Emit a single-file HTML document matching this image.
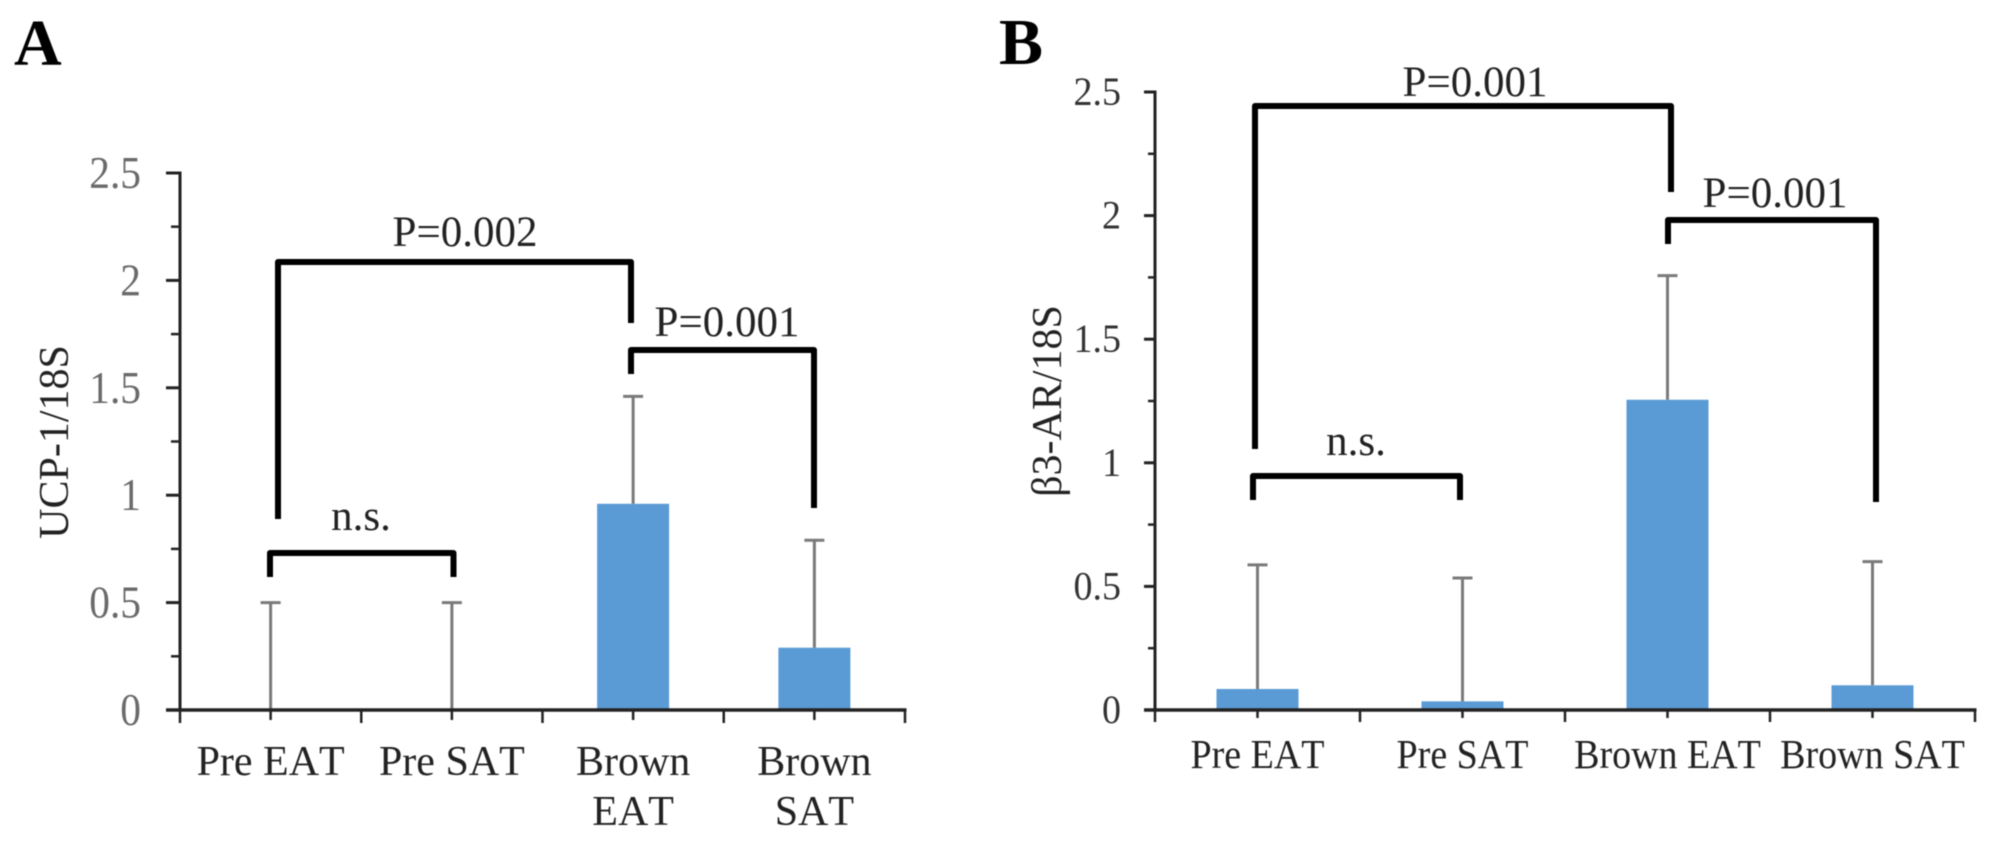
<!DOCTYPE html>
<html lang="en">
<head>
<meta charset="utf-8">
<title>UCP-1 and β3-AR expression</title>
<style>
html,body{margin:0;padding:0;background:#fff;}
body{width:2008px;height:845px;overflow:hidden;}
svg{display:block;}
text{font-family:"Liberation Serif","DejaVu Serif",serif;font-kerning:none;}
.bracket{fill:none;stroke:#000;stroke-width:6;stroke-linejoin:round;stroke-linecap:butt;}
.note{font-size:43px;fill:#222;text-anchor:middle;}
</style>
</head>
<body>
<svg id="figure" width="2008" height="845" viewBox="0 0 2008 845" xmlns="http://www.w3.org/2000/svg">
  <rect x="0" y="0" width="2008" height="845" fill="#fff"/>
  <g id="root" style="filter:blur(0.6px)">
    <text x="14" y="65" font-size="66" font-weight="bold" fill="#000">A</text>
    <text x="999" y="64" font-size="66" font-weight="bold" fill="#000">B</text>
    <text transform="translate(68,442) rotate(-90)" font-size="42" fill="#222" text-anchor="middle">UCP-1/18S</text>
    <text transform="translate(1061,401) rotate(-90)" font-size="42" fill="#222" text-anchor="middle">β3-AR/18S</text>
    <g id="panel-a"></g>
    <g id="panel-b"></g>

    <path class="bracket" d="M278 519V262H631V323"/>
    <path class="bracket" d="M631 374V350H814V508"/>
    <path class="bracket" d="M270 577V553H453.5V577"/>
    <text class="note" x="465" y="246">P=0.002</text>
    <text class="note" x="727" y="336">P=0.001</text>
    <text class="note" x="361" y="530">n.s.</text>

    <path class="bracket" d="M1255 449V106H1671V192"/>
    <path class="bracket" d="M1668 244V220H1876V502"/>
    <path class="bracket" d="M1253 500V476H1460V500"/>
    <text class="note" x="1475" y="96">P=0.001</text>
    <text class="note" x="1775" y="207">P=0.001</text>
    <text class="note" x="1356" y="455">n.s.</text>
  </g>
</svg>
<script>
var categoriesA = [["Pre EAT"], ["Pre SAT"], ["Brown", "EAT"], ["Brown", "SAT"]];
var meansA = [0, 0, 0.96, 0.29];
var errorTopsA = [0.5, 0.5, 1.46, 0.79];
var tickLabelsA = ["0", "0.5", "1", "1.5", "2", "2.5"];

var categoriesB = [["Pre EAT"], ["Pre SAT"], ["Brown EAT"], ["Brown SAT"]];
var meansB = [0.085, 0.035, 1.255, 0.1];
var errorTopsB = [0.587, 0.534, 1.757, 0.6];
var tickLabelsB = ["0", "0.5", "1", "1.5", "2", "2.5"];

var SVG_NS = "http://www.w3.org/2000/svg";

function make(parent, tag, attrs) {
  var el = document.createElementNS(SVG_NS, tag);
  for (var k in attrs) el.setAttribute(k, attrs[k]);
  parent.appendChild(el);
  return el;
}

function drawPanel(target, prefix, cfg, categories, means, errorTops, tickLabels) {
  var maxValue = parseFloat(tickLabels[tickLabels.length - 1]);
  var yScale = function (v) { return cfg.y0 - (v / maxValue) * (cfg.y0 - cfg.yTop); };
  var bandWidth = (cfg.x1 - cfg.x0) / categories.length;
  var xScale = function (i) { return cfg.x0 + bandWidth * (i + 0.5); };
  var i, el, t;

  // bars
  for (i = 0; i < means.length; i++) {
    if (means[i] <= 0) continue;
    el = make(target, "rect", {
      x: xScale(i) - cfg.barWidth / 2, y: yScale(means[i]),
      width: cfg.barWidth, height: cfg.y0 - yScale(means[i]), fill: "#5B9BD5"
    });
    
    
  }

  // error bars
  for (i = 0; i < errorTops.length; i++) {
    el = make(target, "path", {
      d: "M" + xScale(i) + " " + yScale(means[i]) + "V" + yScale(errorTops[i]) +
         "M" + (xScale(i) - 10) + " " + yScale(errorTops[i]) + "H" + (xScale(i) + 10),
      stroke: "#7a7a7a", "stroke-width": 3, fill: "none"
    });
    
    
  }

  // y axis ticks: major at labels, minor half-way between
  var majorStep = maxValue / (tickLabels.length - 1);
  for (var m = 0; m <= (tickLabels.length - 1) * 2; m++) {
    var value = m * majorStep / 2;
    var isMajor = m % 2 === 0;
    el = make(target, "line", {
      x1: cfg.x0 - (isMajor ? cfg.majorTick : cfg.minorTick), x2: cfg.x0,
      y1: yScale(value), y2: yScale(value), stroke: "#222", "stroke-width": isMajor ? 3 : 2.5
    });
    
    
  }

  // y tick labels
  for (i = 0; i < tickLabels.length; i++) {
    t = make(target, "text", {
      transform: "translate(" + cfg.labelRight + "," + (yScale(parseFloat(tickLabels[i])) + cfg.tickBaseline) + ") scale(" + cfg.tickSquash + ",1)",
      "text-anchor": "end", "font-size": cfg.tickFont, fill: cfg.tickColor
    });
    t.textContent = tickLabels[i];
    
    
  }

  // axis lines
  el = make(target, "line", { x1: cfg.x0, x2: cfg.x0, y1: cfg.yTop - 1.5, y2: cfg.y0, stroke: "#222", "stroke-width": 3 });
  
  
  el = make(target, "line", { x1: cfg.x0 - cfg.majorTick, x2: cfg.x1 + 1.5, y1: cfg.y0, y2: cfg.y0, stroke: "#222", "stroke-width": 3.5 });
  
  

  // x ticks at band edges and centres
  for (i = 0; i <= categories.length * 2; i++) {
    var tx = cfg.x0 + bandWidth * i / 2;
    el = make(target, "line", {
      x1: tx, x2: tx, y1: cfg.y0, y2: cfg.y0 + (i % 2 === 0 ? cfg.edgeTick : cfg.centerTick),
      stroke: "#222", "stroke-width": 2.5
    });
    
    
  }

  // category labels
  for (i = 0; i < categories.length; i++) {
    for (var l = 0; l < categories[i].length; l++) {
      t = make(target, "text", {
        transform: "translate(" + xScale(i) + "," + (cfg.catBaseline + l * cfg.catLine) + ") scale(" + cfg.catSquash + ",1)",
        "text-anchor": "middle", "font-size": cfg.catFont, fill: "#222"
      });
      t.textContent = categories[i][l];
      
      
    }
  }
}

drawPanel(document.getElementById("panel-a"), "panel-a", {
  x0: 180, x1: 905, y0: 710, yTop: 173, barWidth: 72,
  majorTick: 14, minorTick: 9, edgeTick: 13, centerTick: 10,
  labelRight: 141, tickBaseline: 15, tickFont: 45, tickSquash: 0.92, tickColor: "#6a6a6a",
  catBaseline: 775, catLine: 50, catFont: 42, catSquash: 1
}, categoriesA, meansA, errorTopsA, tickLabelsA);

drawPanel(document.getElementById("panel-b"), "panel-b", {
  x0: 1155, x1: 1975, y0: 710, yTop: 92, barWidth: 82,
  majorTick: 11, minorTick: 7, edgeTick: 12, centerTick: 8,
  labelRight: 1121, tickBaseline: 13, tickFont: 40, tickSquash: 0.95, tickColor: "#333",
  catBaseline: 768, catLine: 46, catFont: 41, catSquash: 0.927
}, categoriesB, meansB, errorTopsB, tickLabelsB);
</script>
</body>
</html>
